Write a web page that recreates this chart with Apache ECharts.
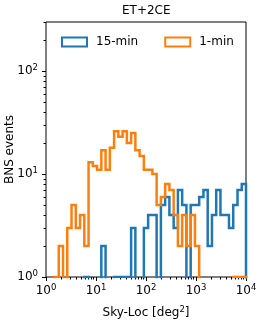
<!DOCTYPE html>
<html><head><meta charset="utf-8">
<script src="https://cdn.jsdelivr.net/npm/echarts@6/dist/echarts.min.js"></script>
<style>html,body{margin:0;padding:0;background:#fff}#c{width:274px;height:327px}</style>
</head><body><div id="c"></div>
<script>
const titleText = 'ET+2CE';
const seriesNames = ['15-min', '1-min'];
const seriesColors = ['#1f77b4', '#ff7f0e'];
// histogram: 47 log-spaced bins between 10^0 and 10^4
const binCount = 47;
const binLogMin = 0;
const binLogMax = 4;
const counts15min = [0,0,0,0,0,0,0,0,0,1,0,0,0,2,0,0,1,1,1,1,3,0,0,3,4,4,0,5,6,4,3,7,5,0,5,5,6,7,2,4,7,4,4,3,5,7,8];
const counts1min  = [0,0,1,2,0,3,5,3,4,2,13,12,11,17,11,18,26,23,26,20,25,17,15,11,11,10,5,6,8,7,4,2,4,2,4,2,0,0,0,0,0,0,0,0,1,1,1];
const xMajorTicks = [1, 10, 100, 1000, 10000];
const yMajorTicks = [1, 10, 100];
const xRange = [1, 10000];
const yRange = [1, 300];
const xLabel = 'Sky-Loc [deg{s|2}]';
const yLabel = 'BNS events';

const FONT = 'DejaVu Sans';
const binEdges = [];
for (let k = 0; k <= binCount; k++) binEdges.push(Math.pow(10, binLogMin + (binLogMax - binLogMin) * k / binCount));

function minorTicks(lo, hi) {
  const out = [];
  for (let d = 0; Math.pow(10, d) < hi; d++) {
    for (let m = 2; m <= 9; m++) { const v = m * Math.pow(10, d); if (v >= lo && v <= hi) out.push(v); }
  }
  return out;
}
const xMinor = minorTicks(xRange[0], xRange[1]);
const yMinor = minorTicks(yRange[0], yRange[1]);

const ZERO = 0.01; // below axis min -> clipped, like matplotlib's log clipping
function stepData(counts) {
  const pts = [[binEdges[0], ZERO]];
  for (let k = 0; k < counts.length; k++) pts.push([binEdges[k], counts[k] > 0 ? counts[k] : ZERO]);
  const last = counts[counts.length - 1];
  pts.push([binEdges[counts.length], last > 0 ? last : ZERO]);
  pts.push([binEdges[counts.length], ZERO]);
  return pts;
}
const rich = {
  b: { fontSize: 12, fontFamily: FONT, color: '#000' },
  s: { fontSize: 8.5, fontFamily: FONT, color: '#000', padding: [0, 0, 7, 0] }
};
const powFmt = v => '{b|10}{s|' + Math.round(Math.log10(v)) + '}';

const chart = echarts.init(document.getElementById('c'), null, { renderer: 'canvas' });
chart.setOption({
  animation: false,
  backgroundColor: '#fff',
  title: { text: titleText, left: 122, top: 5, padding: 0,
    textStyle: { fontFamily: FONT, fontSize: 12, fontWeight: 'normal', color: '#000' } },
  legend: { top: 36, left: 61, padding: 0, itemWidth: 25, itemHeight: 9, itemGap: 26, icon: 'emptyRect',
    data: seriesNames,
    textStyle: { fontFamily: FONT, fontSize: 12, color: '#000', padding: [0, 0, 0, 4] } },
  grid: { left: 46, right: 28, top: 22, bottom: 50, containLabel: false, outerBoundsMode: 'none',
    show: true, borderColor: '#000', borderWidth: 1 },
  xAxis: [
    { type: 'log', logBase: 10, min: xRange[0], max: xRange[1], position: 'bottom',
      name: xLabel, nameLocation: 'middle', nameGap: 28, nameMoveOverlap: false,
      nameTextStyle: { fontFamily: FONT, fontSize: 12, color: '#000', rich: { s: { fontSize: 8.5, fontFamily: FONT, color: '#000', padding: [0, 0, 7, 0] } } },
      axisLine: { show: false }, splitLine: { show: false },
      axisTick: { show: true, length: 4, customValues: xMajorTicks, lineStyle: { color: '#000', width: 1 } },
      axisLabel: { customValues: xMajorTicks, formatter: powFmt, rich: rich, margin: 6, fontFamily: FONT, fontSize: 12, color: '#000' } },
    { type: 'log', logBase: 10, min: xRange[0], max: xRange[1], position: 'bottom',
      axisLine: { show: false }, splitLine: { show: false },
      axisTick: { show: true, length: 2.5, customValues: xMinor, lineStyle: { color: '#000', width: 1 } },
      axisLabel: { show: false } }
  ],
  yAxis: [
    { type: 'log', logBase: 10, min: yRange[0], max: yRange[1], position: 'left',
      name: yLabel, nameLocation: 'middle', nameGap: 30, nameRotate: 90, nameMoveOverlap: false,
      nameTextStyle: { fontFamily: FONT, fontSize: 12, color: '#000', verticalAlign: 'bottom', align: 'center' },
      axisLine: { show: false }, splitLine: { show: false },
      axisTick: { show: true, length: 4, customValues: yMajorTicks, lineStyle: { color: '#000', width: 1 } },
      axisLabel: { customValues: yMajorTicks, formatter: powFmt, rich: rich, margin: 8, fontFamily: FONT, fontSize: 12, color: '#000' } },
    { type: 'log', logBase: 10, min: yRange[0], max: yRange[1], position: 'left',
      axisLine: { show: false }, splitLine: { show: false },
      axisTick: { show: true, length: 2.5, customValues: yMinor, lineStyle: { color: '#000', width: 1 } },
      axisLabel: { show: false } }
  ],
  series: [
    { name: seriesNames[0], type: 'line', step: 'end', data: stepData(counts15min), symbol: 'none', showSymbol: false,
      clip: true, xAxisIndex: 0, yAxisIndex: 0, color: seriesColors[0],
      lineStyle: { color: seriesColors[0], width: 2.5, join: 'miter' }, itemStyle: { color: seriesColors[0] } },
    { name: seriesNames[1], type: 'line', step: 'end', data: stepData(counts1min), symbol: 'none', showSymbol: false,
      clip: true, xAxisIndex: 0, yAxisIndex: 0, color: seriesColors[1],
      lineStyle: { color: seriesColors[1], width: 2.5, join: 'miter' }, itemStyle: { color: seriesColors[1] } }
  ]
});
</script>
</body></html>
